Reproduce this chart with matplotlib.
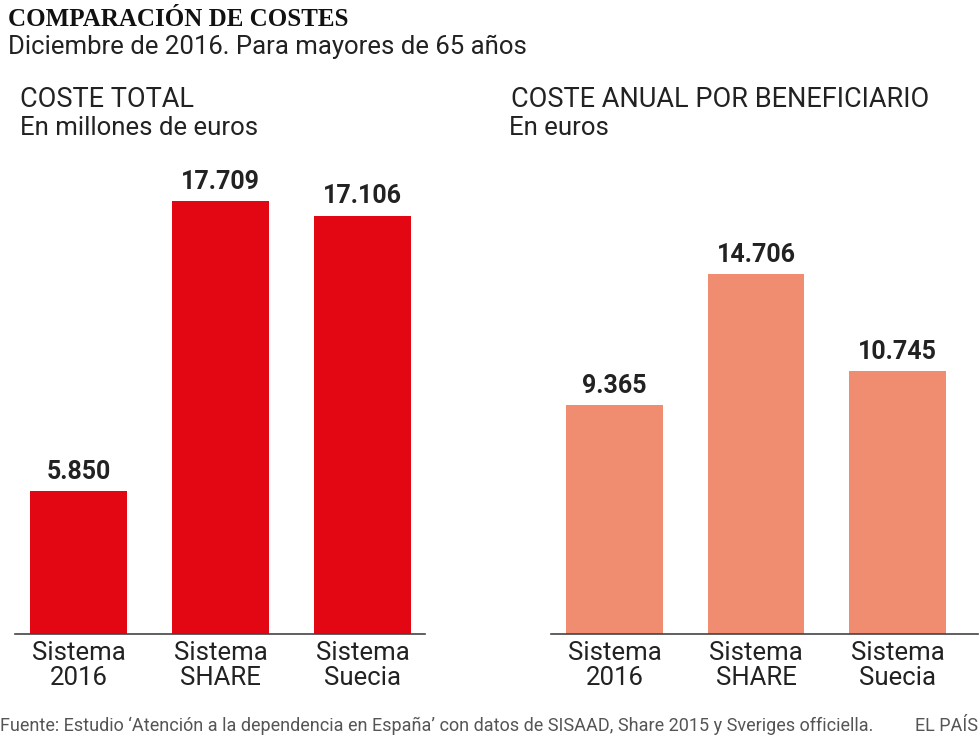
import matplotlib.pyplot as plt

# --- data ---
categorias = ['Sistema\n2016', 'Sistema\nSHARE', 'Sistema\nSuecia']
coste_total = [5.850, 17.709, 17.106]          # millones de euros
coste_beneficiario = [9.365, 14.706, 10.745]   # euros (miles)
etiquetas_total = ['5.850', '17.709', '17.106']
etiquetas_benef = ['9.365', '14.706', '10.745']

plt.rcParams['font.family'] = ['Roboto', 'DejaVu Sans']

ROJO = '#e30613'
SALMON = '#f08c70'
TXT = '#222222'

fig = plt.figure(figsize=(9.8, 7.55), dpi=100)
W, H = 980, 755

def px_axes(x0, x1, ytop, ybot):
    return fig.add_axes([x0 / W, 1 - ybot / H, (x1 - x0) / W, (ybot - ytop) / H])

ymax = (634 - 165) / 24.45

def panel(ax, vals, labels, color, xlim):
    x = range(len(vals))
    ax.bar(x, vals, width=0.685, color=color, zorder=2)
    for xi, v, lab in zip(x, vals, labels):
        ax.text(xi, v + 0.3, lab, ha='center', va='bottom', fontsize=18,
                fontweight='bold', color=TXT)
    ax.set_xlim(*xlim)
    ax.set_ylim(0, ymax)
    ax.set_yticks([])
    ax.set_xticks(list(x))
    ax.set_xticklabels(categorias, fontsize=18.5, color=TXT, linespacing=1.08)
    ax.tick_params(axis='x', length=0, pad=5)
    for s in ['top', 'right', 'left']:
        ax.spines[s].set_visible(False)
    ax.spines['bottom'].set_color('#444444')
    ax.spines['bottom'].set_linewidth(1.2)

ax1 = px_axes(15, 425, 165, 634)
panel(ax1, coste_total, etiquetas_total, ROJO, (-0.447, 2.44))

ax2 = px_axes(551, 978, 165, 634)
panel(ax2, coste_beneficiario, etiquetas_benef, SALMON, (-0.45, 2.57))

# --- texts ---
fig.text(8 / W, 1 - 8 / H, 'COMPARACIÓN DE COSTES', ha='left', va='top',
         fontsize=18, fontweight='bold', family=['Liberation Serif'], color='#111111')
fig.text(8 / W, 1 - 35 / H, 'Diciembre de 2016. Para mayores de 65 años', ha='left',
         va='top', fontsize=18.5, color=TXT)

fig.text(20 / W, 1 - 86 / H, 'COSTE TOTAL', ha='left', va='top', fontsize=19.5,
         color=TXT)
fig.text(20 / W, 1 - 116 / H, 'En millones de euros', ha='left', va='top', fontsize=18.5,
         color=TXT)
fig.text(511 / W, 1 - 86 / H, 'COSTE ANUAL POR BENEFICIARIO', ha='left', va='top',
         fontsize=19.5, color=TXT)
fig.text(509 / W, 1 - 116 / H, 'En euros', ha='left', va='top', fontsize=18.5,
         color=TXT)

fig.text(0, 1 - 717 / H, 'Fuente: Estudio ‘Atención a la dependencia en España’ con datos de '
         'SISAAD, Share 2015 y Sveriges officiella.', ha='left', va='top', fontsize=13,
         color='#555555')
fig.text(978 / W, 1 - 717 / H, 'EL PAÍS', ha='right', va='top', fontsize=13,
         color='#555555')

fig.savefig('out.png', dpi=100)
